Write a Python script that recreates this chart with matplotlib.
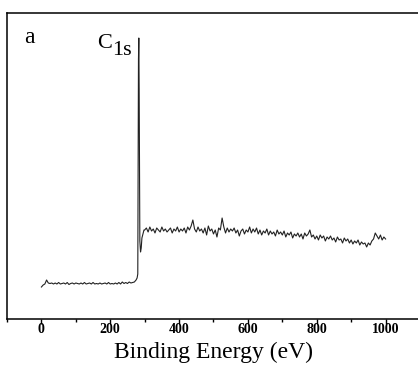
import numpy as np
import matplotlib
matplotlib.use("Agg")
import matplotlib.pyplot as plt
from matplotlib.ticker import MultipleLocator

# survey spectrum (intensity in arbitrary units)
base_energy = np.arange(0, 280, 5)
base_counts = [32, 34, 35, 39, 36, 35.5, 36, 35, 36, 35,
               36.5, 35, 35.5, 36, 35, 36.5, 34.5, 35.5, 36, 35,
               36, 35.5, 35, 36, 35, 36.5, 35, 35.5, 36, 35,
               36.5, 35, 35.5, 35, 36, 35, 35.5, 36, 35, 36.5,
               35, 35.5, 35, 36, 35, 36.5, 35, 37, 35.5, 36.5,
               35.5, 37, 36, 36.5, 37, 39]

peak_energy = [278, 280, 281, 282, 283, 284, 285, 286, 288, 290, 292, 295, 298]
peak_counts = [41, 45, 150, 260, 281, 230, 140, 78, 67, 71, 81, 85, 89]

tail_energy = np.arange(300, 1005, 5)
tail_counts = [89, 91, 87, 92, 88, 90, 86, 91, 89, 87,
               92, 88, 90, 87, 89, 91, 86, 90, 88, 92,
               87, 90, 88, 91, 86, 92, 89, 93, 99, 90,
               87, 92, 88, 90, 86, 91, 84, 93, 88, 90,
               85, 89, 82, 91, 89, 101, 92, 86, 91, 87,
               90, 88, 91, 86, 89, 83, 88, 90, 85, 89,
               87, 92, 86, 90, 87, 91, 85, 89, 84, 88,
               86, 90, 84, 88, 85, 87, 83, 89, 85, 87,
               84, 88, 82, 86, 84, 87, 81, 85, 83, 86,
               82, 85, 80, 86, 83, 85, 89, 82, 84, 80,
               83, 79, 84, 81, 83, 78, 82, 80, 83, 79,
               81, 77, 82, 79, 80, 76, 81, 78, 80, 76,
               79, 75, 78, 76, 79, 74, 77, 75, 76, 72,
               76, 74, 78, 80, 86, 83, 80, 84, 79, 82,
               80]

energy = np.concatenate([base_energy, peak_energy, tail_energy])
counts = np.concatenate([base_counts, peak_counts, tail_counts])

plt.rcParams['font.family'] = ['Liberation Serif', 'DejaVu Serif']

fig = plt.figure(figsize=(4.18, 3.71), dpi=100)
ax = fig.add_axes([7/418, 52/371, 413/418, 306/371])

ax.plot(energy, counts, color="#222222", linewidth=0.8)

ax.set_xlim(-100, 1100)
ax.set_ylim(0, 306)
ax.xaxis.set_major_locator(MultipleLocator(200))
ax.xaxis.set_minor_locator(MultipleLocator(100))
ax.tick_params(axis="x", which="major", direction="out", length=3.6, width=1.0,
               labelsize=10, pad=-0.5)
ax.tick_params(axis="x", which="minor", direction="out", length=2.2, width=1.0)
for lab in ax.get_xticklabels():
    lab.set_fontweight("bold")
ax.set_yticks([])
ax.spines["right"].set_visible(False)
for s in ["left", "top", "bottom"]:
    ax.spines[s].set_linewidth(1.1)

ax.set_xlabel("Binding Energy (eV)", fontsize=17, labelpad=4)

ax.text(0.042, 0.903, "a", transform=ax.transAxes, fontsize=17)
ax.text(0.218, 0.886, "C", transform=ax.transAxes, fontsize=16)
ax.text(0.254, 0.863, "1s", transform=ax.transAxes, fontsize=16)

fig.savefig("out.png", dpi=100)
